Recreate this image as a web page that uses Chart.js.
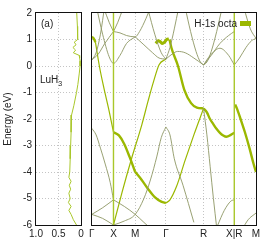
<!DOCTYPE html>
<html><head><meta charset="utf-8">
<script src="https://cdn.jsdelivr.net/npm/chart.js@4"></script>
<style>
html,body{margin:0;padding:0;background:#fff;}
body{width:266px;height:245px;overflow:hidden;position:relative;font-family:"Liberation Sans",Arial,sans-serif;}
#c1{position:absolute;left:0;top:0;}
#c2{position:absolute;left:86px;top:0;}
</style></head>
<body>
<canvas id="c1" width="88" height="245"></canvas>
<canvas id="c2" width="180" height="245"></canvas>
<script>
// ---------- data ----------
const energyTicks = [-6,-5,-4,-3,-2,-1,0,1,2];
const dosTicks = [1, 0.5, 0];
const dosTickLabels = ['1.0', '0.5', '0'];
const dosEnergy = [2.0,1.5,1.1,1.0,0.9,0.8,0.7,0.6,0.5,0.4,0.3,0.2,0.0,-0.3,-0.7,-1.0,-1.5,-1.85,-2.5,-3.0,-3.5,-4.0,-4.2,-4.35,-4.5,-4.65,-4.8,-5.0,-5.15,-5.3,-5.45,-5.6,-5.8,-6.0];
const dosValue  = [0.095,0.08,0.07,0.08,0.15,0.11,0.18,0.12,0.17,0.04,0.03,0.02,0.02,0.04,0.07,0.10,0.16,0.21,0.22,0.23,0.24,0.25,0.27,0.22,0.26,0.23,0.27,0.24,0.28,0.22,0.27,0.22,0.17,0.10];

const kPoints = [0, 1, 2, 3.414, 5.146, 6.560, 7.560];
const kLabels = ['Γ', 'X', 'M', 'Γ', 'R', 'X|R', 'M'];
const legendLabel = 'H-1s octa';
const panelLabel = '(a)';
const compoundBase = 'LuH';
const compoundSub = '3';

// bands with strong H-1s octa character (thick)
const thickA_k = [0, 0.08, 0.17];            const thickA_E = [1.1, 1.05, 0.9];
const thickB_k = [1, 1.25, 1.5, 1.75, 2.0];  const thickB_E = [-2.5, -2.62, -2.95, -3.45, -4.0];
const thickC_k = [2, 2.3, 2.6, 2.9, 3.2, 3.414]; const thickC_E = [-4.0, -4.3, -4.65, -4.95, -5.12, -5.17];
const thickD_k = [2.95, 3.05, 3.15, 3.25, 3.35, 3.45, 3.55]; const thickD_E = [0.85, 0.95, 0.92, 0.85, 0.9, 1.0, 1.02];
const thickE_k = [3.58, 3.67, 3.97, 4.26, 4.57, 4.84, 5.146]; const thickE_E = [1.0, 0.68, 0.0, -0.9, -1.4, -1.57, -1.6];
const thickF_k = [5.146, 5.3, 5.43, 5.6, 5.75, 5.9, 6.05, 6.2, 6.4, 6.56]; const thickF_E = [-1.6, -1.75, -1.98, -2.2, -2.38, -2.52, -2.62, -2.67, -2.6, -2.52];
const thickG_k = [6.6, 6.68, 6.85, 7.05, 7.26, 7.45, 7.56]; const thickG_E = [-1.45, -1.6, -2.0, -2.5, -3.1, -3.7, -4.0];

// medium-weight bands (bright, thin)
const brightA_k = [0.17, 0.35, 0.55, 0.8, 1.0]; const brightA_E = [0.9, 0.0, -0.8, -1.7, -2.5];
const brightB_k = [3.414, 3.6, 3.9, 4.3, 4.7, 5.146]; const brightB_E = [-5.17, -5.05, -4.55, -3.55, -2.6, -1.6];
const brightC_k = [1, 1.4, 1.83, 2.31, 2.6, 2.84, 3.1, 3.414]; const brightC_E = [-6, -4.75, -3.5, -2.2, -1.3, -0.6, 0.05, 0.26];

// weak-weight bands (olive)
const weakA_k = [0, 0.2, 0.4, 0.6];          const weakA_E = [0.23, 0.5, 1.2, 2.3];
const weakB_k = [0, 0.3, 0.6, 1.0];          const weakB_E = [0.23, 0.45, 0.85, 1.3];
const weakC_k = [0.2, 0.5, 0.8, 1.0, 1.3, 1.6, 2.0]; const weakC_E = [2.3, 1.2, 0.35, 0.1, 0.4, 0.85, 1.1];
const weakD_k = [1, 1.3, 1.6, 2.0, 2.2, 2.5, 2.75]; const weakD_E = [1.3, 1.25, 1.15, 1.1, 1.3, 1.8, 2.3];
const weakE_k = [0.55, 0.8, 1.0];            const weakE_E = [2.2, 1.65, 1.3];
const weakF_k = [1.0, 1.2, 1.45];            const weakF_E = [1.3, 1.65, 2.2];
const weakG_k = [2.6, 2.9, 3.2, 3.414];      const weakG_E = [2.1, 1.2, 0.5, 0.26];
const weakH_k = [3.414, 3.7, 3.95, 4.3, 4.7, 5.146]; const weakH_E = [0.26, 0.45, 0.55, 0.5, 0.3, 0.04];
const weakI_k = [3.414, 3.6, 3.8, 4.0];      const weakI_E = [0.26, 0.7, 1.4, 2.2];
const weakJ_k = [2.0, 2.4, 2.8, 3.1, 3.414]; const weakJ_E = [1.1, 0.8, 0.5, 0.3, 0.26];
const weakK_k = [4.3, 4.55, 4.8, 5.0, 5.146]; const weakK_E = [2.2, 1.3, 0.55, 0.15, 0.04];
const weakL_k = [5.146, 5.3, 5.5, 5.75, 6.0]; const weakL_E = [0.04, 0.15, 0.55, 1.3, 2.2];
const weakM_k = [5.146, 5.5, 5.9, 6.3, 6.56]; const weakM_E = [0.04, 0.4, 0.85, 1.15, 1.3];
const weakN_k = [5.146, 5.45, 5.9, 6.3, 6.56]; const weakN_E = [0.04, 0.4, 0.67, 0.4, 0.04];
const weakO_k = [6.56, 6.8, 7.1, 7.35, 7.56]; const weakO_E = [0.04, 0.3, 0.7, 0.95, 1.04];
const weakP_k = [7.0, 7.3, 7.56];            const weakP_E = [2.2, 1.4, 1.04];
const weakQ_k = [0, 0.2, 0.4, 0.62, 0.85, 1.0]; const weakQ_E = [-2.35, -2.6, -3.1, -3.7, -4.4, -5.05];
const weakR_k = [0, 0.5, 1.0];               const weakR_E = [-5.6, -5.35, -5.05];
const weakS_k = [0, 0.5, 1.0];               const weakS_E = [-5.6, -5.75, -6.0];
const weakT_k = [1, 1.5, 2, 2.4, 2.8];       const weakT_E = [-5.05, -5.3, -5.6, -5.9, -6.2];
const weakU_k = [1, 1.5, 2, 2.4, 2.7, 3.0, 3.2, 3.414]; const weakU_E = [-6, -5.85, -5.6, -5.0, -4.3, -3.4, -2.7, -2.3];
const weakV_k = [3.414, 3.6, 3.8, 4.2, 4.7]; const weakV_E = [-2.3, -2.6, -3.5, -4.5, -5.9];
const weakW_k = [5.146, 5.3, 5.45, 5.6, 5.75]; const weakW_E = [-1.6, -2.6, -3.8, -5.0, -6.1];
const weakX_k = [5.8, 6.1, 6.4, 6.56];       const weakX_E = [-6.0, -5.45, -5.1, -5.05];
const weakY_k = [6.9, 7.2, 7.56];            const weakY_E = [-6.2, -5.8, -5.55];

// vertical path-break lines
const breakK = [1, 6.56];
const breakE = [-6, 2];

// ---------- styling / building ----------
const GREEN = '#9bb800';
const GREEN_LIGHT = '#a9c72a';
const OLIVE = '#8d9663';
const GRID = '#c4c4c4';
const TXT = '#222';
const FONT = {family: '"Liberation Sans", Arial, sans-serif', size: 10};

function pts(k, e) { return k.map((v, i) => ({x: v, y: e[i]})); }
function ds(k, e, color, width) {
  return {data: pts(k, e), borderColor: color, borderWidth: width, pointRadius: 0,
          cubicInterpolationMode: 'monotone', fill: false};
}

const weakBands = [
  [weakA_k, weakA_E], [weakB_k, weakB_E], [weakC_k, weakC_E], [weakD_k, weakD_E],
  [weakE_k, weakE_E], [weakF_k, weakF_E], [weakG_k, weakG_E], [weakH_k, weakH_E],
  [weakI_k, weakI_E], [weakJ_k, weakJ_E], [weakK_k, weakK_E], [weakL_k, weakL_E],
  [weakM_k, weakM_E], [weakN_k, weakN_E], [weakO_k, weakO_E], [weakP_k, weakP_E],
  [weakQ_k, weakQ_E], [weakR_k, weakR_E], [weakS_k, weakS_E], [weakT_k, weakT_E],
  [weakU_k, weakU_E], [weakV_k, weakV_E], [weakW_k, weakW_E], [weakX_k, weakX_E],
  [weakY_k, weakY_E]
];
const brightBands = [[brightA_k, brightA_E], [brightB_k, brightB_E], [brightC_k, brightC_E]];
const thickBands = [[thickA_k, thickA_E], [thickB_k, thickB_E], [thickC_k, thickC_E],
  [thickD_k, thickD_E], [thickE_k, thickE_E], [thickF_k, thickF_E], [thickG_k, thickG_E]];

const bandDatasets = [];
breakK.forEach(k => bandDatasets.push(ds([k, k], breakE, GREEN_LIGHT, 1.4)));
weakBands.forEach(b => bandDatasets.push(ds(b[0], b[1], OLIVE, 0.9)));
brightBands.forEach(b => bandDatasets.push(ds(b[0], b[1], GREEN, 1.2)));
thickBands.forEach((b, i) => bandDatasets.push(ds(b[0], b[1], GREEN, i === 3 ? 3 : 2.4)));

const framePlugin = {
  id: 'frame',
  afterDatasetsDraw(chart) {
    const {ctx, chartArea: a} = chart;
    ctx.save();
    ctx.strokeStyle = '#111';
    ctx.lineWidth = 1;
    ctx.strokeRect(Math.round(a.left) - 0.5, Math.round(a.top) - 0.5,
                   Math.round(a.right - a.left) + 1, Math.round(a.bottom - a.top) + 1);
    ctx.restore();
  }
};

const leftText = {
  id: 'leftText',
  afterDraw(chart) {
    const ctx = chart.ctx;
    ctx.save();
    ctx.fillStyle = TXT;
    ctx.textBaseline = 'alphabetic';
    ctx.font = '10px "Liberation Sans", Arial, sans-serif';
    ctx.fillText(panelLabel, 41, 27);
    ctx.fillText(compoundBase, 40, 83);
    const w = ctx.measureText(compoundBase).width;
    ctx.font = '7px "Liberation Sans", Arial, sans-serif';
    ctx.fillText(compoundSub, 40 + w, 86);
    ctx.restore();
  }
};

const rightText = {
  id: 'rightText',
  afterDraw(chart) {
    const ctx = chart.ctx;
    ctx.save();
    ctx.fillStyle = TXT;
    ctx.font = '10px "Liberation Sans", Arial, sans-serif';
    ctx.textAlign = 'right';
    ctx.textBaseline = 'middle';
    ctx.fillText(legendLabel, 151, 24);
    ctx.fillStyle = GREEN;
    ctx.fillRect(154, 21, 11, 5);
    ctx.restore();
  }
};

new Chart(document.getElementById('c1'), {
  type: 'line',
  data: {datasets: [{data: pts(dosValue, dosEnergy), borderColor: GREEN_LIGHT, borderWidth: 1,
                     pointRadius: 0, tension: 0, fill: false}]},
  options: {
    responsive: false, animation: false, events: [],
    plugins: {legend: {display: false}, tooltip: {enabled: false}},
    layout: {padding: {top: 13, right: 7, left: 0, bottom: 0}},
    scales: {
      x: {
        type: 'linear', reverse: true, min: 0, max: 1,
        afterBuildTicks(s) { s.ticks = dosTicks.map(v => ({value: v})); },
        ticks: {callback: (v, i) => dosTickLabels[i], autoSkip: false, maxRotation: 0,
                padding: 3, font: FONT, color: TXT},
        grid: {drawTicks: false, color: c => (c.tick && c.tick.value === 0.5) ? GRID : 'rgba(0,0,0,0)'},
        border: {display: false, dash: [1, 2]},
        afterFit(s) { s.height = 20; }
      },
      y: {
        type: 'linear', min: -6, max: 2,
        afterBuildTicks(s) { s.ticks = energyTicks.map(v => ({value: v})); },
        ticks: {font: FONT, color: TXT, padding: 4, autoSkip: false},
        grid: {drawTicks: false, color: c => (c.tick && (c.tick.value === 2 || c.tick.value === -6)) ? 'rgba(0,0,0,0)' : GRID},
        border: {display: false, dash: [1, 2]},
        title: {display: true, text: 'Energy (eV)', font: FONT, color: TXT, padding: {top: 2, bottom: 0}},
        afterFit(s) { s.width = 36; }
      }
    }
  },
  plugins: [framePlugin, leftText]
});

new Chart(document.getElementById('c2'), {
  type: 'line',
  data: {datasets: bandDatasets},
  options: {
    responsive: false, animation: false, events: [],
    plugins: {legend: {display: false}, tooltip: {enabled: false}},
    layout: {padding: {top: 13, right: 10, left: 0, bottom: 0}},
    scales: {
      x: {
        type: 'linear', min: 0, max: 7.56,
        afterBuildTicks(s) { s.ticks = kPoints.map(v => ({value: v})); },
        ticks: {callback: (v, i) => kLabels[i], autoSkip: false, maxRotation: 0,
                padding: 3, font: FONT, color: TXT},
        grid: {drawTicks: false, color: c => (c.index >= 2 && c.index <= 4) ? GRID : 'rgba(0,0,0,0)'},
        border: {display: false, dash: [1, 2]},
        afterFit(s) { s.height = 20; }
      },
      y: {
        type: 'linear', min: -6, max: 2,
        afterBuildTicks(s) { s.ticks = energyTicks.map(v => ({value: v})); },
        ticks: {display: false},
        grid: {drawTicks: false, color: c => (c.tick && (c.tick.value === 2 || c.tick.value === -6)) ? 'rgba(0,0,0,0)' : GRID},
        border: {display: false, dash: [1, 2]},
        afterFit(s) { s.width = 3; }
      }
    }
  },
  plugins: [framePlugin, rightText]
});
</script>
</body></html>
